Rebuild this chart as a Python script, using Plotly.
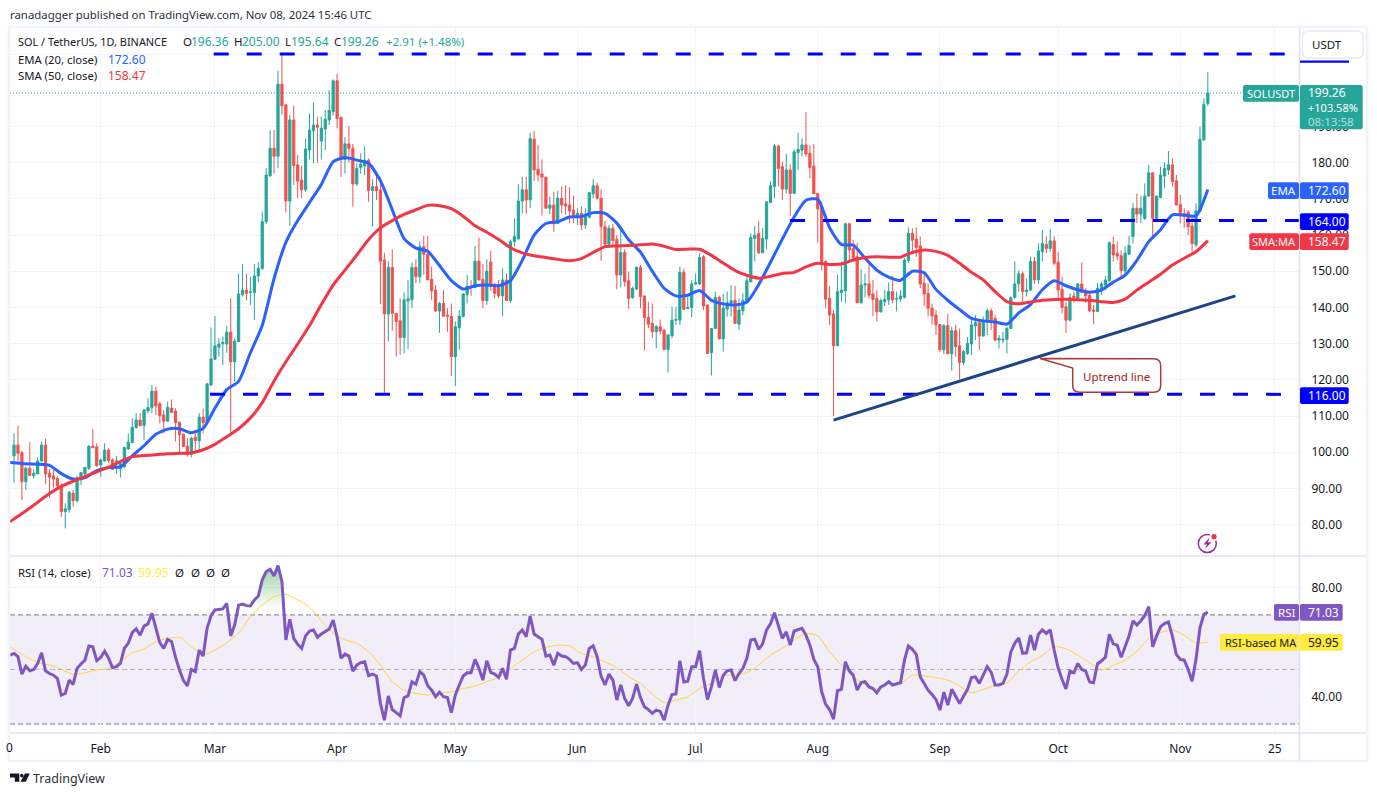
import pandas as pd
import plotly.graph_objects as go

# ---- candles, one (open, high, low, close) row per day ----
jan_ohlc = [(99.0,105.2,91.6,102.0),(102.0,107.3,97.4,99.7),(99.9,100.4,86.8,91.9),(91.9,96.0,89.6,95.6),
(95.6,102.8,93.5,93.6),(93.5,95.3,92.8,94.2),(94.0,98.6,94.0,97.6),(97.6,103.0,97.4,102.0),(102.0,103.7,91.2,94.0),
(94.2,95.4,87.3,93.1),(93.5,95.3,90.3,92.6),(92.8,93.3,89.8,90.7),(90.7,91.4,82.2,83.6),(83.6,85.9,79.0,84.4),
(84.1,89.4,83.3,88.9),(88.7,89.6,85.0,86.6),(86.6,93.5,86.1,92.4),(92.4,94.6,91.0,94.4),(94.0,96.0,92.8,95.8),
(95.6,102.0,95.1,101.7),(101.7,106.4,101.1,101.3),(101.5,102.5,96.0,96.3)]
feb_ohlc = [(96.5,98.3,93.3,97.9),(97.6,102.5,97.4,100.6),(100.6,101.1,97.0,97.7),(97.9,98.3,95.1,95.3),
(97.4,99.0,94.0,97.6),(95.4,97.4,93.0,96.8),(96.0,101.6,95.6,101.3),(100.9,105.2,100.6,102.8),(102.7,109.4,102.5,106.9),
(106.8,110.8,106.6,108.9),(108.9,110.8,107.1,107.4),(107.4,111.9,103.4,111.7),(111.4,114.9,110.8,112.4),
(112.4,118.6,110.8,116.9),(116.9,118.1,110.3,112.8),(113.4,114.0,108.0,110.1),(110.3,111.7,105.2,108.6),
(108.6,114.0,108.5,112.4),(112.2,114.6,110.8,111.0),(111.4,112.1,103.0,108.2),(108.3,108.5,99.9,104.8),
(105.0,105.2,101.6,101.6),(101.7,103.9,98.8,99.4),(99.4,104.3,98.6,103.9),(104.2,106.2,100.2,103.2),
(103.2,110.8,100.5,109.7),(109.7,112.1,105.2,108.2),(108.2,119.1,107.8,118.9),(118.6,134.5,118.3,125.8)]
mar_ohlc = [(125.7,137.6,125.5,129.4),(129.0,131.5,126.4,129.9),(130.0,132.0,124.1,130.3),(129.9,134.9,127.5,133.2),
(133.2,142.6,105.2,125.0),(125.0,131.5,119.5,130.7),(130.6,149.3,130.6,143.7),(143.5,152.0,143.0,144.8),
(144.8,149.3,142.0,143.9),(144.2,148.5,140.7,144.3),(144.1,152.0,136.5,148.7),(148.7,152.5,147.0,150.8),
(150.8,166.5,150.4,163.7),(163.7,178.5,163.0,176.6),(176.4,189.0,176.0,184.0),(184.0,189.0,177.0,181.8),
(181.8,205.4,178.4,201.7),(201.7,210.2,193.2,195.7),(196.0,196.0,166.2,169.4),(169.4,193.2,162.5,191.8),
(191.8,195.7,173.8,179.2),(179.4,182.1,170.2,174.9),(175.2,179.2,170.2,172.5),(172.5,186.7,172.0,183.8),
(183.5,193.6,180.9,189.0),(188.8,196.6,179.8,190.4),(190.4,192.7,180.0,189.8),(186.0,192.7,180.9,189.5),
(189.3,194.5,183.5,192.0),(191.8,200.0,190.4,194.4),(194.1,203.0,193.0,202.6)]
apr_ohlc = [(202.6,204.5,189.5,192.2),(192.5,192.7,176.0,180.9),(180.9,187.0,177.0,185.2),(185.2,190.1,180.0,184.0),
(184.0,185.2,167.8,174.1),(174.1,179.8,173.6,178.4),(178.6,182.6,176.9,179.6),(179.1,184.6,176.6,180.7),
(180.7,181.2,169.2,172.3),(172.3,175.4,162.3,173.4),(173.4,176.3,169.7,172.3),(172.5,176.0,141.0,152.8),
(153.1,155.1,115.8,138.2),(138.2,152.8,130.6,151.1),(151.1,156.1,133.6,138.4),(138.4,138.4,126.4,136.1),
(136.3,142.5,126.9,131.7),(131.7,144.1,127.3,142.1),(141.8,147.6,128.6,142.4),(142.1,152.4,139.8,151.1),
(151.1,153.3,146.7,148.5),(148.5,158.2,146.7,156.8),(156.8,159.8,149.0,154.7),(154.7,159.8,147.6,147.6),
(147.8,151.3,142.0,144.6),(144.8,146.2,138.9,139.0),(139.0,141.6,133.0,141.1),(141.1,144.8,137.5,137.6),
(137.9,139.8,133.3,137.6),(137.6,141.1,121.1,126.4)]
may_ohlc = [(126.4,136.1,118.3,134.7),(134.4,139.3,128.3,137.6),(137.5,143.9,137.3,143.7),(143.5,149.0,141.1,145.9),
(145.8,147.6,143.2,145.5),(145.5,157.0,145.3,152.8),(152.8,159.3,147.5,147.6),(147.8,152.0,139.8,141.9),
(141.9,153.3,140.7,150.0),(152.6,155.7,144.6,145.8),(146.5,146.5,142.5,143.9),(145.6,147.6,142.5,143.2),
(143.2,150.8,137.6,147.6),(147.6,149.4,141.9,141.9),(141.9,158.8,141.3,158.2),(158.2,164.6,156.8,159.6),
(158.9,174.0,158.9,169.4),(169.4,176.1,166.0,172.5),(172.5,176.1,165.8,169.7),(169.7,188.3,167.4,186.7),
(186.5,188.8,175.0,178.0),(178.2,184.9,174.8,176.6),(176.9,180.9,165.4,176.0),(176.0,176.0,167.4,167.4),
(167.4,170.6,165.8,168.3),(168.3,172.0,160.9,163.1),(163.2,172.3,163.1,170.2),(170.2,173.4,166.0,168.3),
(168.6,173.8,165.6,168.0),(168.3,173.2,163.3,166.7),(166.9,170.8,163.3,165.3)]
jun_ohlc = [(165.1,167.4,162.8,166.0),(166.0,167.9,161.4,162.8),(162.8,167.4,161.7,165.1),(164.9,172.0,164.6,171.7),
(171.4,175.4,170.2,173.6),(173.6,174.5,169.8,170.2),(170.2,172.6,152.9,162.3),(162.3,163.9,157.0,157.5),
(157.5,162.8,156.4,161.9),(161.9,163.1,156.8,158.5),(158.8,160.0,145.0,149.0),(149.0,162.3,145.6,155.2),
(155.2,156.1,145.8,147.1),(147.4,149.9,139.6,142.5),(142.7,145.8,142.5,145.3),(145.1,151.3,144.8,151.1),
(151.1,151.7,139.8,143.0),(143.2,143.2,128.1,137.2),(137.3,141.6,134.3,135.4),(135.6,141.1,131.5,133.3),
(133.3,135.2,128.7,134.7),(134.7,136.7,132.5,133.5),(133.8,133.8,128.3,128.4),(128.4,132.7,122.0,132.4),
(132.2,140.2,131.5,136.5),(136.5,140.2,135.2,136.7),(136.5,151.3,135.2,149.7),(149.7,150.8,139.3,139.5),
(139.7,143.5,139.5,140.0),(140.0,147.6,137.3,146.5)]
jul_ohlc = [(146.5,149.4,146.2,146.8),(146.5,155.0,146.2,153.8),(154.0,154.5,139.3,140.4),(140.7,140.7,127.3,127.3),
(127.5,134.2,121.2,134.2),(134.2,144.4,134.0,142.8),(142.8,143.3,131.3,131.3),(131.3,143.7,127.8,139.8),
(139.6,144.4,137.5,141.3),(141.2,146.2,137.5,141.9),(142.0,146.0,135.6,135.6),(135.4,142.5,133.8,139.3),
(139.1,143.9,137.9,141.9),(141.6,148.5,141.3,147.4),(147.1,160.5,146.9,159.4),(159.1,162.5,152.7,160.0),
(160.5,163.9,154.8,155.1),(155.1,161.9,155.1,159.1),(158.9,169.2,156.1,169.2),(169.0,174.8,168.8,173.6),
(173.4,185.2,170.2,184.6),(184.6,184.9,173.4,178.4),(178.9,180.3,169.7,172.7),(172.7,182.4,171.5,178.0),
(178.0,179.6,165.3,171.5),(171.5,183.7,171.5,183.0),(182.8,188.3,178.0,183.7),(183.5,186.7,181.7,184.9),
(184.9,194.0,181.7,182.4),(182.6,184.9,175.7,178.7),(179.1,185.1,171.4,171.4)]
aug_ohlc = [(171.5,171.5,157.9,167.2),(167.7,169.2,150.2,152.7),(152.7,153.0,139.8,142.3),(142.5,145.9,135.2,137.9),
(138.2,139.3,110.0,129.4),(129.4,149.0,129.4,144.4),(144.1,152.7,141.6,144.8),(144.6,163.4,141.2,163.1),
(163.1,163.4,153.1,155.9),(156.3,158.6,153.1,153.6),(154.0,157.9,141.3,141.3),(141.3,150.5,141.1,146.2),
(146.2,149.3,142.8,146.5),(146.5,152.0,142.5,143.4),(143.7,147.6,137.6,142.2),(142.5,144.8,136.1,138.8),
(138.8,142.5,138.6,141.9),(141.6,144.8,140.4,142.2),(142.1,146.9,140.7,144.4),(144.4,148.7,141.2,142.1),
(142.3,144.4,138.9,142.5),(142.4,144.8,141.6,143.2),(142.8,153.6,142.5,153.1),(153.0,162.1,152.2,160.5),
(160.5,161.9,155.0,158.6),(158.9,162.1,154.0,156.6),(157.0,159.6,145.3,146.5),(146.7,149.4,140.4,143.7),
(143.9,146.7,137.5,139.8),(139.8,141.1,135.2,137.7),(137.9,139.3,132.4,135.2)]
sep_ohlc = [(135.3,135.3,127.8,128.3),(128.3,135.4,127.1,135.0),(135.0,138.2,127.2,127.2),(127.2,134.7,122.5,133.6),
(133.6,135.3,126.4,129.2),(129.4,134.2,120.1,124.8),(124.8,128.3,124.1,127.8),(127.3,131.8,126.9,130.1),
(129.9,137.0,126.9,135.2),(134.9,137.9,131.0,135.8),(135.8,135.8,128.3,132.1),(132.1,137.5,132.0,136.4),
(136.1,139.8,132.4,139.1),(139.1,139.8,133.8,136.6),(137.0,137.9,130.6,131.0),(131.0,132.4,128.7,131.5),
(131.0,133.3,130.1,131.2),(131.2,134.7,127.3,134.2),(134.2,143.0,134.0,142.7),(142.8,152.7,142.5,146.5),
(146.5,150.2,144.4,149.3),(149.3,149.9,141.3,144.4),(144.4,148.0,143.0,144.8),(144.8,154.0,144.6,152.7),
(152.7,154.0,146.5,147.6),(147.6,157.7,146.5,155.6),(155.4,161.4,152.7,157.7),(157.4,159.6,155.0,156.3),
(156.3,161.7,155.4,158.4),(158.4,159.6,151.7,152.2)]
oct_ohlc = [(152.5,155.4,142.2,144.8),(145.0,148.5,138.4,140.0),(140.2,141.6,133.0,136.5),(136.5,143.9,136.1,142.8),
(143.2,144.4,141.3,141.9),(142.5,146.7,142.2,146.5),(146.5,152.4,143.9,144.2),(144.2,145.3,141.3,143.2),
(143.4,143.9,138.7,139.1),(139.3,140.7,135.4,138.9),(138.9,146.7,138.7,145.3),(145.1,147.1,143.5,146.5),
(146.2,148.7,144.8,147.6),(147.4,158.2,147.1,157.9),(157.4,159.6,152.7,154.5),(155.0,158.2,153.1,154.2),
(154.3,155.7,148.1,150.2),(150.1,156.8,149.4,155.0),(154.7,159.8,154.5,157.1),(159.6,168.8,157.7,167.4),
(167.4,171.5,163.3,165.8),(165.8,170.8,163.3,167.4),(164.6,174.3,164.2,170.8),(170.8,179.4,170.6,177.2),
(177.2,177.2,159.1,164.6),(164.6,170.8,164.3,170.8),(170.4,178.9,170.4,176.6),(176.3,180.0,172.9,178.4),
(178.0,183.2,176.6,179.4),(179.4,181.2,173.4,174.8),(175.0,176.6,168.3,168.3)]
nov_ohlc = [(168.5,171.1,163.3,165.7),(166.0,167.4,162.0,165.5),(166.3,166.9,160.0,162.3),(162.5,165.1,155.0,157.7),
(157.3,168.8,156.6,166.7),(166.5,190.0,166.2,186.5),(186.3,197.8,186.0,196.1),(196.36,205.0,195.64,199.26)]
month_rows = [("2024-01-10",jan_ohlc),("2024-02-01",feb_ohlc),("2024-03-01",mar_ohlc),("2024-04-01",apr_ohlc),
              ("2024-05-01",may_ohlc),("2024-06-01",jun_ohlc),("2024-07-01",jul_ohlc),("2024-08-01",aug_ohlc),
              ("2024-09-01",sep_ohlc),("2024-10-01",oct_ohlc),("2024-11-01",nov_ohlc)]

# ---- indicator lines, read at the left edge (Jan 9) and then every third day from Jan 10 to Nov 8 ----
ema20 = [97.2,97.1,96.8,96.7,96.4,94.1,92.6,93.0,94.9,95.8,96.0,99.0,101.8,105.0,106.4,106.5,105.4,106.6,112.2,117.3,
119.6,127.5,135,148,158,164,169,174,180.3,181.4,180.7,179.8,175,167,159,156.4,155.5,151.6,147.4,145.1,146,146.2,
146,147.4,153,160,163.2,163.7,165,165.1,166.2,166,163.3,158.7,155.3,150,145.3,143.2,143.4,144.7,142,141,140.7,
141.5,146.3,152.5,158.9,165,169.6,169.9,162,157.4,157.2,153.6,150.3,148.4,147.5,150,149.6,145,142,139.4,137,
136.3,136,135.4,138.5,140.8,144.9,147.4,146,144.9,144.2,144.8,147,148.9,153,158.2,161.5,165.6,165.5,165.3,172.6]
sma50 = [80.8,81.6,83.8,86.2,88.6,90.6,92,93.3,94.6,95.9,97.4,98.8,99.1,99.3,99.6,99.7,99.8,100.7,102.2,104.3,106.5,
109.5,113.7,119.7,125,129.9,135,140.8,146.2,150.3,154.5,158.8,162,164,165.7,167,168.2,168.1,167.3,165.2,162.6,
160.8,158.8,156.5,155.1,154.3,153.8,153.3,152.9,153.5,155.2,156.8,157,157.1,157.3,157.5,156.9,156,156.1,156.1,
154.4,152.3,150.2,148.9,148.1,148.6,149.4,149.7,151.2,152.2,151.9,152,153.1,153.8,154,153.9,153.9,155.2,155.9,
155.5,154.4,152.2,149.7,147.6,144.4,141.6,141,141.5,142,142.2,142.3,142.1,142,141.6,141.4,142.3,144.8,147,149.2,
151.7,153.6,155.4,158.47]
rsi_ma = [58.3,57.4,54.7,52.5,51.6,50.1,48.2,48.8,49.8,50.4,52.8,56.1,57.5,60.2,61.4,61.8,58.3,55.5,57.1,59.8,63.2,69.4,
73.6,76.7,77.6,75.5,72.8,67.9,63.2,60.8,59.6,56.5,51.6,45.5,42.4,41.2,40.6,41.4,41.8,43,43.9,45.5,47.1,50.4,53.4,
56.5,58.1,58.9,58.6,55.9,54.7,52.8,50.7,47.3,44.9,41,37.8,38.8,40,43,44.9,47.6,48,48.8,51.6,55.3,57.7,60.8,63.2,
62.3,56.5,51.6,47.3,44.5,43,44.9,44.9,47.9,47.6,47,46.1,43.9,41.4,42.7,44.1,44.9,49.4,52.7,55.2,58.3,57.6,55.2,
52.5,49.8,51.5,53.4,56.7,61.3,63.5,64.5,62.5,59.8,59.95]

# ---- RSI, one value per day from Jan 9 ----
rsi_jan_may = [55.3,55.9,54.7,48.3,51.2,49.5,50,52.2,56.1,49.5,48.5,47.9,46.7,40.6,41.2,46.1,44.5,50.4,52,53.4,58.6,
58.3,53.2,54.4,56.7,54.1,50.6,51,52.2,57.7,59.6,63.5,64.9,62.6,65.9,66.7,70.6,65.1,59.8,57.7,61,
60.2,54.4,49.8,45.9,44,50,49.2,57.1,54.9,65.1,69.7,71.8,72,72.2,74.2,62.3,66.3,73.6,74,73.4,
73.3,75.5,76.9,82.8,85.9,86.7,84.3,88.1,82.2,60.8,68.4,61.4,59.2,57.7,62.3,64.1,64.5,61.8,63,63.8,
64.8,68.1,62,54.1,55.6,54.9,49.4,51.6,52.5,52.8,47.7,48.3,47.6,37.5,31.4,40.3,35.3,34.2,33,39.7,
40.3,45.5,44.6,49.2,47.9,44,42.4,40,41.6,40,39.7,34.2,40.6]
rsi_may_aug = [44.3,47.6,48.8,48.8,53.7,50.4,46.1,53.2,48.9,48.3,47.1,50.4,46.4,57.1,57.7,63,64.5,62,69.6,63,
62,61.1,54.9,55.3,51.6,55.9,54.9,54.7,53.7,52.2,52.5,50,51.6,57.7,58.7,54.7,47.6,44.3,48.3,46.1,
38.8,44.3,39.4,36.7,39.4,44.6,39.7,36.3,35.3,33.9,35.1,34.6,31.4,36.9,40.8,41,53.2,45.4,45.7,51,
51,56.9,46.7,39,43.6,49.8,43.4,47.9,49.5,49.8,45.9,48.5,50.4,54.1,60.8,61.1,57.4,59.4,64.5,66.7,
70.8,66.3,61.4,63.8,58.9,64.1,64.5,65.1,62.6,58.9,53.7,51,41.8,37.2,35.3,31.8,42.2,42.7,52.8,49.5,
47.9,42.4,45.2,45.5,43.6,43,41.4,43.6,44.3,45.5,44.3,44.6,45.1,53.4,58.6]
rsi_aug_nov = [57.4,55.5,47.3,45.1,42.4,40.8,39,35.1,41.7,36.9,42.7,40.2,37.5,40.2,42.7,47,47.3,44.9,48.2,51,
49,44.3,44.3,44.9,48.2,56.4,59.6,61.6,55.9,56.1,62.6,57.1,62.9,64.5,63.2,64.5,57.1,50.6,46.3,42.9,
49.4,48.8,52.2,50,49.4,45.4,45.1,52.1,53.1,54.5,62.9,59.4,58.9,54.5,58.3,62.3,67.8,66.3,67.8,69.8,
73,58.3,62.3,65.7,66.8,67.4,62.3,55.5,53.7,53.4,50,45.7,53.7,65.3,70.2,71.03]

# ---- levels and labels ----
top_level, mid_level, low_level = 210, 164, 116
price_ticks = list(range(80, 220, 10))
price_tick_text = ["80.00","90.00","100.00","110.00","120.00","130.00","140.00","150.00","160.00","170.00","180.00","190.00","",""]
rsi_ticks = [40, 60, 80]
rsi_tick_text = ["40.00","","80.00"]
time_tick_dates = ["2024-02-01","2024-03-01","2024-04-01","2024-05-01","2024-06-01","2024-07-01","2024-08-01",
                   "2024-09-01","2024-10-01","2024-11-01","2024-11-25"]
time_tick_text = ["Feb","Mar","Apr","May","Jun","Jul","Aug","Sep","Oct","Nov","25"]
trend_dates = ["2024-08-05","2024-11-15"]
trend_values = [108.9, 143.2]

# ---- assemble ----
dates, o, h, l, c = [], [], [], [], []
for start, rows in month_rows:
    dates += list(pd.date_range(start, periods=len(rows), freq="D"))
    for row in rows:
        o.append(row[0]); h.append(row[1]); l.append(row[2]); c.append(row[3])
rsi = rsi_jan_may + rsi_may_aug + rsi_aug_nov
rsi_dates = pd.date_range("2024-01-09", periods=len(rsi), freq="D")
sampled = [pd.Timestamp("2024-01-09")] + list(pd.date_range("2024-01-10", periods=len(ema20) - 1, freq="3D"))

W, H = 1377, 796
PANE_L, PANE_R, P_TOP, P_BOT, R_BOT = 10, 1299, 28, 556, 733
FONT = "Noto Sans"
INK = "#131722"
TEAL, RED, BLUE, EMA_C, SMA_C, PURPLE, YELLOW = "#26a69a", "#ef5350", "#0000ff", "#2962ff", "#f23645", "#7e57c2", "#ffeb3b"
def px(x): return x / W
def py(y): return 1 - y / H

feb1 = pd.Timestamp("2024-02-01")
x_start = feb1 + pd.Timedelta(days=(PANE_L - 100.7) / 3.94)
x_end = feb1 + pd.Timedelta(days=(PANE_R - 100.7) / 3.94)
def x_at(pixel): return feb1 + pd.Timedelta(days=(pixel - 100.7) / 3.94)

fig = go.Figure()
fig.add_trace(go.Candlestick(x=dates, open=o, high=h, low=l, close=c, xaxis="x", yaxis="y", whiskerwidth=0,
    increasing=dict(line=dict(color=TEAL, width=1), fillcolor=TEAL),
    decreasing=dict(line=dict(color=RED, width=1), fillcolor=RED), hoverinfo="skip", showlegend=False))
def line(xs, ys, color, width, dash=None, axes=("x","y"), shape="linear"):
    fig.add_trace(go.Scatter(x=xs, y=ys, mode="lines", xaxis=axes[0], yaxis=axes[1], hoverinfo="skip", showlegend=False,
        line=dict(color=color, width=width, dash=dash, shape=shape, **({"smoothing":0.6} if shape=="spline" else {}))))
line([x_start, x_end], [c[-1], c[-1]], TEAL, 1, "1px,2px")
line(sampled, ema20, EMA_C, 3, shape="spline")
line(sampled, sma50, SMA_C, 3, shape="spline")
line([x_at(213.7), x_end], [top_level]*2, BLUE, 3, "15px,18px")
line([x_at(790), x_end], [mid_level]*2, BLUE, 3, "15px,18px")
line([x_at(210), x_end], [low_level]*2, BLUE, 3, "15px,18px")
line(trend_dates, trend_values, "#1c4587", 3)

# RSI pane
hot = [(d, v) for d, v in zip(rsi_dates, rsi) if pd.Timestamp("2024-03-01") <= d <= pd.Timestamp("2024-03-20")]
hot_x = [d for d, _ in hot]
fig.add_trace(go.Scatter(x=hot_x, y=[70]*len(hot), mode="lines", line=dict(width=0), xaxis="x2", yaxis="y2",
                         hoverinfo="skip", showlegend=False))
fig.add_trace(go.Scatter(x=hot_x, y=[max(70, v) for _, v in hot], mode="lines", line=dict(width=0), xaxis="x2", yaxis="y2",
    fill="tonexty", hoverinfo="skip", showlegend=False,
    fillgradient=dict(type="vertical", start=72, stop=88,
                      colorscale=[[0, "rgba(76,175,80,0)"], [1, "rgba(76,175,80,0.55)"]])))
line(sampled, rsi_ma, "#fdd835", 1, axes=("x2","y2"), shape="spline")
line(rsi_dates, rsi, PURPLE, 3, axes=("x2","y2"))

shapes, notes = [], []
def rr(x0, y0, x1, y1, fill, r=2, line_c=None, lw=0, layer="above"):
    p = (f"M {px(x0+r)} {py(y0)} L {px(x1-r)} {py(y0)} Q {px(x1)} {py(y0)} {px(x1)} {py(y0+r)} "
         f"L {px(x1)} {py(y1-r)} Q {px(x1)} {py(y1)} {px(x1-r)} {py(y1)} L {px(x0+r)} {py(y1)} "
         f"Q {px(x0)} {py(y1)} {px(x0)} {py(y1-r)} L {px(x0)} {py(y0+r)} Q {px(x0)} {py(y0)} {px(x0+r)} {py(y0)} Z")
    shapes.append(dict(type="path", path=p, xref="paper", yref="paper", fillcolor=fill, layer=layer,
                       line=dict(color=line_c or fill, width=lw)))
def hline(x0, x1, y, color="#e0e3eb", w=1.5):
    shapes.append(dict(type="line", xref="paper", yref="paper", x0=px(x0), x1=px(x1), y0=py(y), y1=py(y),
                       line=dict(color=color, width=w), layer="above"))
def vline(x, y0, y1, color="#e0e3eb", w=1.5):
    shapes.append(dict(type="line", xref="paper", yref="paper", x0=px(x), x1=px(x), y0=py(y0), y1=py(y1),
                       line=dict(color=color, width=w), layer="above"))
def note(x, y, text, color=INK, size=12, anchor="left"):
    notes.append(dict(xref="paper", yref="paper", x=px(x), y=py(y), text=text, showarrow=False, xanchor=anchor,
                      yanchor="middle", font=dict(family=FONT, size=size, color=color), borderpad=0, borderwidth=0))
def circle(cx, cy, r, fill="rgba(0,0,0,0)", stroke=None, w=0):
    shapes.append(dict(type="circle", xref="paper", yref="paper", layer="above", fillcolor=fill,
                       line=dict(color=stroke or fill, width=w), x0=px(cx-r), x1=px(cx+r), y0=py(cy+r), y1=py(cy-r)))

# RSI band and reference levels
shapes.append(dict(type="rect", xref="x2 domain", yref="y2", x0=0, x1=1, y0=30, y1=70, layer="below",
                   fillcolor="rgba(126,87,194,0.1)", line=dict(width=0)))
for lvl, col in ((70, "#787b86"), (30, "#787b86"), (50, "rgba(120,123,134,0.55)")):
    shapes.append(dict(type="line", xref="x2 domain", yref="y2", x0=0, x1=1, y0=lvl, y1=lvl, layer="below",
                       line=dict(color=col, width=1, dash="5px,3px")))

# frame and pane separators
shapes.append(dict(type="rect", xref="paper", yref="paper", x0=px(9), x1=px(1367), y0=py(761), y1=py(27), layer="above",
                   line=dict(color="#f0f3fa", width=2.5), fillcolor="rgba(0,0,0,0)"))
hline(PANE_L, 1366, P_BOT)
hline(PANE_L, 1366, R_BOT)
vline(PANE_R + 0.5, 28, 760)

# USDT selector, with the lower edge of the blue top level tag showing under it
rr(1300, 60.5, 1349, 62.8, BLUE, 0.5)
rr(1302.5, 31, 1363, 58, "#ffffff", 6, "#e8eaf0", 1.5)
note(1312, 44.5, "USDT", size=11.5)

# price tags
rr(1243, 85, 1299, 101.7, TEAL)
rr(1300, 85, 1362.7, 129.3, TEAL)
note(1271, 93, "SOLUSDT", "#ffffff", 11, "center")
note(1308, 92.5, "199.26", "#ffffff", 12)
note(1308, 107, "+103.58%", "#ffffff", 11)
note(1308, 121.5, "08:13:58", "rgba(255,255,255,0.65)", 11.5)
rr(1268, 182.3, 1299, 199, EMA_C)
rr(1300, 182.3, 1348.7, 199, EMA_C)
note(1283.5, 190.5, "EMA", "#ffffff", 11.5, "center")
note(1308, 190.5, "172.60", "#ffffff", 12)
rr(1300, 213.3, 1348.7, 230, BLUE)
note(1308, 221.5, "164.00", "#ffffff", 12)
rr(1249.3, 233.3, 1299, 250, SMA_C)
rr(1300, 233.3, 1348.7, 250, SMA_C)
note(1274, 241.5, "SMA:MA", "#ffffff", 11, "center")
note(1308, 241.5, "158.47", "#ffffff", 12)
rr(1300, 387.3, 1348.7, 404, BLUE)
note(1308, 395.5, "116.00", "#ffffff", 12)
rr(1274, 604, 1299, 620.7, PURPLE)
rr(1300, 604, 1342.7, 620.7, PURPLE)
note(1286.5, 612.5, "RSI", "#ffffff", 11.5, "center")
note(1308, 612.5, "71.03", "#ffffff", 12)
rr(1220, 634, 1299, 650.7, YELLOW)
rr(1300, 634, 1342.7, 650.7, YELLOW)
note(1224.5, 642.5, "RSI-based MA", INK, 11)
note(1308, 642.5, "59.95", INK, 12)

# callout
cr = 7
callout = (f"M {px(1040)} {py(358.5)} L {px(1160.7-cr)} {py(358.7)} Q {px(1160.7)} {py(358.7)} {px(1160.7)} {py(358.7+cr)} "
           f"L {px(1160.7)} {py(392.3-cr)} Q {px(1160.7)} {py(392.3)} {px(1160.7-cr)} {py(392.3)} L {px(1072.7+cr)} {py(392.3)} "
           f"Q {px(1072.7)} {py(392.3)} {px(1072.7)} {py(392.3-cr)} L {px(1072.7)} {py(368)} Z")
shapes.append(dict(type="path", path=callout, xref="paper", yref="paper", fillcolor="#ffffff", layer="above",
                   line=dict(color="#a83c3c", width=1.5)))
note(1116.5, 376, "Uptrend line", "#9c1c1c", 11.5, "center")

# bolt badge
circle(1207.3, 543.5, 9, stroke="#9c27b0", w=1.5)
circle(1214, 536.7, 4.5, fill="#ffffff")
circle(1214, 536.7, 2.6, fill="#f23645")
shapes.append(dict(type="path", xref="paper", yref="paper", layer="above", fillcolor="#9c27b0", line=dict(width=0),
    path=f"M {px(1209.5)} {py(537.5)} L {px(1203.5)} {py(544.5)} L {px(1207)} {py(544.5)} L {px(1205)} {py(549)} "
         f"L {px(1211.5)} {py(542.3)} L {px(1208)} {py(542.3)} Z"))

# logo
shapes.append(dict(type="path", xref="paper", yref="paper", layer="above", fillcolor=INK, line=dict(width=0),
    path=f"M {px(10)} {py(773.5)} L {px(19.3)} {py(773.5)} L {px(19.3)} {py(781.7)} L {px(14.8)} {py(781.7)} "
         f"L {px(14.8)} {py(777.6)} L {px(10)} {py(777.6)} Z"))
circle(21.8, 775.6, 1.8, fill=INK)
shapes.append(dict(type="path", xref="paper", yref="paper", layer="above", fillcolor=INK, line=dict(width=0),
    path=f"M {px(25)} {py(773.5)} L {px(29.8)} {py(773.5)} L {px(25.8)} {py(781.7)} L {px(20.5)} {py(781.7)} Z"))
note(33, 778, "TradingView", "#2e3138", 12.5)

# text
note(10, 14.5, "ranadagger published on TradingView.com, Nov 08, 2024 15:46 UTC", "#2a2e39", 11.4)
note(18, 42, "SOL / TetherUS, 1D, BINANCE", INK, 10.9)
for label, lx, value, vx in (("O",183,"196.36",191),("H",234,"205.00",242),("L",285,"195.64",291),("C",334,"199.26",341)):
    note(lx, 42, label, INK, 11.5)
    note(vx, 42, value, TEAL, 12)
note(386, 42, "+2.91 (+1.48%)", TEAL, 11.5)
note(18, 59, "EMA (20, close)", INK, 11.3)
note(108, 59, "172.60", EMA_C, 12)
note(18, 76, "SMA (50, close)", INK, 11.3)
note(108, 76, "158.47", SMA_C, 12)
note(18, 572, "RSI (14, close)", INK, 11.3)
note(102, 572, "71.03", PURPLE, 12)
note(138, 572, "59.95", YELLOW, 12)
for gx in (175, 191, 206, 221):
    note(gx, 572, "Ø", INK, 11.5)
note(9, 747, "0", INK, 12, "center")

grid = "#f0f3fa"
x_common = dict(type="date", range=[x_start, x_end], domain=[px(PANE_L), px(PANE_R)], tickmode="array",
                tickvals=time_tick_dates, ticktext=time_tick_text, showgrid=True, gridcolor=grid, gridwidth=1,
                zeroline=False, showline=False, fixedrange=True)
y_common = dict(side="right", showgrid=True, gridcolor=grid, gridwidth=1, zeroline=False, showline=False,
                tickmode="array", ticks="outside", ticklen=9, tickcolor="rgba(0,0,0,0)",
                tickfont=dict(family=FONT, size=12, color=INK), fixedrange=True)
fig.update_layout(
    width=W, height=H, margin=dict(l=0, r=0, t=0, b=0), paper_bgcolor="#ffffff", plot_bgcolor="#ffffff",
    showlegend=False, hovermode=False, shapes=shapes, annotations=notes, boxgap=0.25, boxgroupgap=0.25,
    xaxis=dict(**x_common, anchor="y", showticklabels=False, rangeslider=dict(visible=False)),
    xaxis2=dict(**x_common, anchor="y2", showticklabels=True, ticks="outside", ticklen=5, tickcolor="rgba(0,0,0,0)",
                tickfont=dict(family=FONT, size=12, color=INK)),
    yaxis=dict(**y_common, anchor="x", domain=[py(P_BOT), py(P_TOP)], range=[71.35, 217.2], tickvals=price_ticks,
               ticktext=price_tick_text),
    yaxis2=dict(**y_common, anchor="x2", domain=[py(R_BOT), py(P_BOT)], range=[26.7, 91.6], tickvals=rsi_ticks,
                ticktext=rsi_tick_text),
)
fig.write_html("out.html", config=dict(displayModeBar=False),
               post_script="document.body.style.margin='0';document.body.style.overflow='hidden';")
